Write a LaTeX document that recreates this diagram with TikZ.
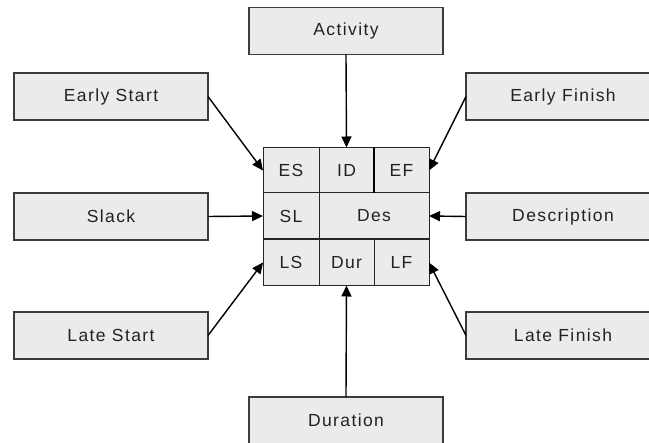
\documentclass[tikz,border=0pt]{standalone}
\usepackage{fontspec}
\setmainfont{Liberation Sans}[LetterSpace=8]
\usetikzlibrary{arrows.meta}
\definecolor{boxfill}{HTML}{EBEBEB}
\definecolor{boxline}{HTML}{3C3C3C}
\definecolor{txt}{HTML}{222222}
\tikzset{
  label box/.style={draw=boxline, line width=1.2pt, fill=boxfill, minimum width=194pt, minimum height=47pt, inner sep=0pt, outer sep=0pt, text=txt, font=\fontsize{17.5}{20}\selectfont},
  cell/.style={draw=black!85, line width=1pt, fill=boxfill, minimum height=46pt, inner sep=0pt, outer sep=0pt, text=txt, font=\fontsize{17.5}{20}\selectfont},
  pointer/.style={-{Triangle[length=11pt,width=10pt]}, line width=1.4pt, black},
}
\begin{document}
\begin{tikzpicture}[x=1pt, y=-1pt]
\useasboundingbox (0,0) rectangle (649,443);
\clip (0,0) rectangle (649,443);
\node [label box] (activity) at (346,31) {Activity};
\node [label box] (early start) at (111,96.5) {Early Start};
\node [label box] (slack) at (111,216.5) {Slack};
\node [label box] (late start) at (111,335.5) {Late Start};
\node [label box] (early finish) at (563,96.5) {Early Finish};
\node [label box] (description) at (563,216.5) {Description};
\node [label box] (late finish) at (563,335.5) {Late Finish};
\node [label box] (duration) at (346,420.5) {Duration};
\node [cell, minimum width=56pt] (es) at (291,170.5) {ES};
\node [cell, minimum width=55pt] (id) at (346.5,170.5) {ID};
\node [cell, minimum width=55pt] (ef) at (401.5,170.5) {EF};
\node [cell, minimum width=56pt] (sl) at (291,216) {SL};
\node [cell, minimum width=110pt] (des) at (374,216) {Des};
\node [cell, minimum width=56pt] (ls) at (291,262.5) {LS};
\node [cell, minimum width=55pt] (dur) at (346.5,262.5) {Dur};
\node [cell, minimum width=55pt] (lf) at (401.5,262.5) {LF};
\draw [line width=1.8pt] (ef.north west) -- (ef.south west);
\draw [pointer] (activity.south) -- (id.north);
\draw [pointer] (early start.east) -- (es.west);
\draw [pointer] (slack.east) -- (sl.west);
\draw [pointer] (late start.east) -- (ls.west);
\draw [pointer] (early finish.west) -- (ef.east);
\draw [pointer] (description.west) -- (des.east);
\draw [pointer] (late finish.west) -- (lf.east);
\draw [pointer] (duration.north) -- (dur.south);
\end{tikzpicture}
\end{document}
